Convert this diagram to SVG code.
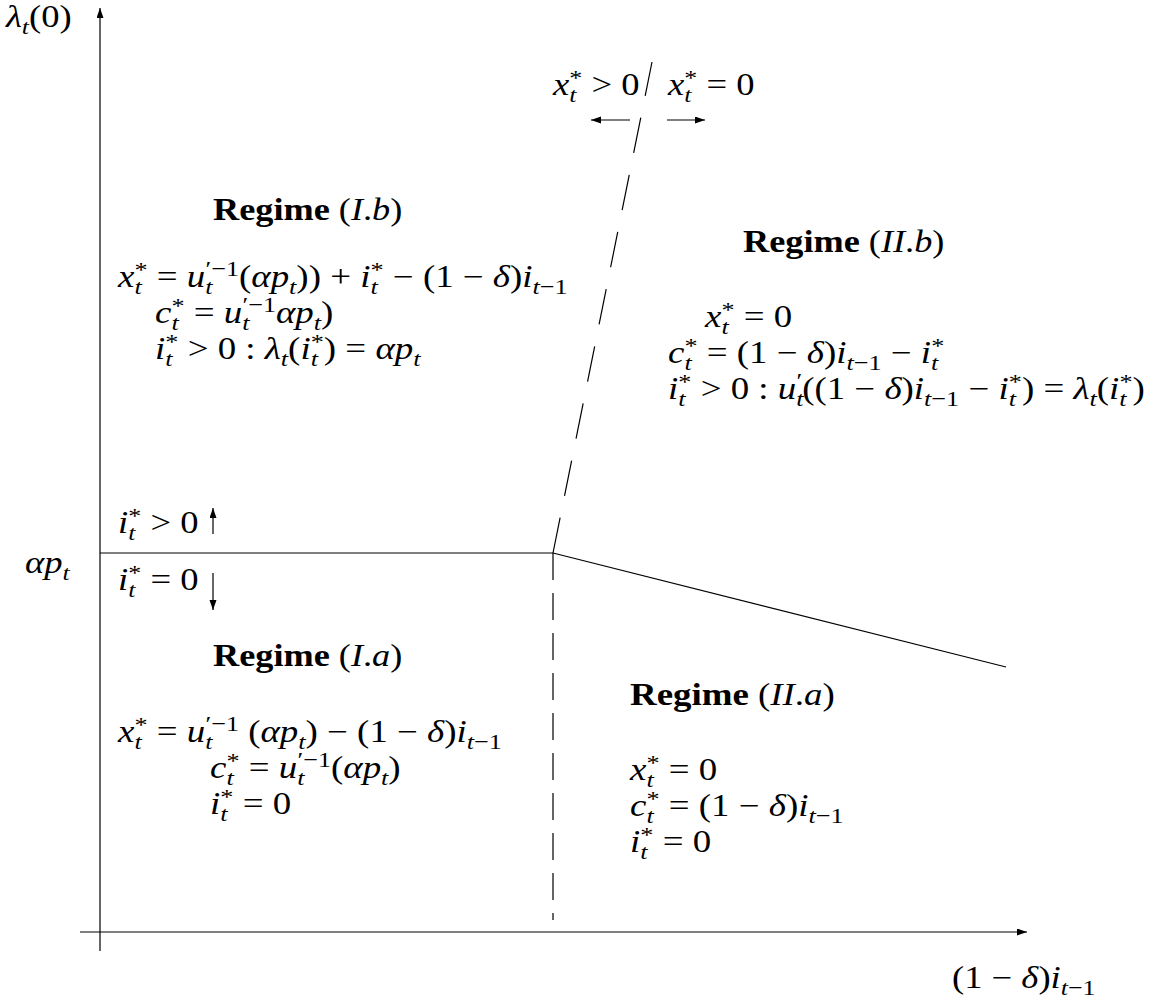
<svg xmlns="http://www.w3.org/2000/svg" width="1167" height="1000" viewBox="0 0 1167 1000">
<style>
.t{font-family:"Liberation Serif","Times New Roman",serif;font-size:31px;fill:#000}
.i{font-style:italic}
.s{font-size:22px}
.b{font-weight:bold}
.ln{stroke:#000;stroke-width:1.2;fill:none}
</style>
<defs>
<marker id="ah" markerUnits="userSpaceOnUse" markerWidth="11" markerHeight="8" refX="10" refY="3.5" orient="auto"><path d="M0,0 L10,3.5 L0,7 z" fill="#000"/></marker>
</defs>
<rect width="1167" height="1000" fill="#fff"/>
<g id="connectors">
<line class="ln" x1="100" y1="951" x2="100" y2="8" marker-end="url(#ah)"/>
<line class="ln" x1="80" y1="932" x2="1027" y2="932" marker-end="url(#ah)"/>
<line class="ln" x1="100" y1="553" x2="553" y2="553"/>
<line class="ln" x1="553" y1="553" x2="553" y2="920" stroke-dasharray="27 13"/>
<line class="ln" x1="553" y1="553" x2="652" y2="62" stroke-dasharray="36 22.3"/>
<line class="ln" x1="553" y1="553" x2="1006" y2="667"/>
<line class="ln" x1="213" y1="534" x2="213" y2="508" marker-end="url(#ah)"/>
<line class="ln" x1="213" y1="573" x2="213" y2="610" marker-end="url(#ah)"/>
<line class="ln" x1="630" y1="120" x2="591" y2="120" marker-end="url(#ah)"/>
<line class="ln" x1="667" y1="120" x2="705" y2="120" marker-end="url(#ah)"/>
</g>
<g id="axis-labels">
<text class="t" transform="translate(6 27) scale(1.18 1)"><tspan class="i">λ</tspan><tspan class="s i" dy="7">t</tspan><tspan dy="-7">(0)</tspan></text>
<text class="t" transform="translate(25 573) scale(1.18 1)"><tspan class="i">αp</tspan><tspan class="s i" dy="7">t</tspan></text>
<text class="t" transform="translate(952 988) scale(1.18 1)">(1 − <tspan class="i">δ</tspan>)<tspan class="i">i</tspan><tspan class="s" dy="7"><tspan class="i">t</tspan>−1</tspan></text>
</g>
<g id="boundary-labels">
<text class="t" transform="translate(553 95) scale(1.18 1)"><tspan class="i">x</tspan><tspan class="s i" dy="7">t</tspan><tspan class="s" dx="-6" dy="-17">*</tspan><tspan dy="10"> &gt; 0</tspan></text>
<text class="t" transform="translate(668 95) scale(1.18 1)"><tspan class="i">x</tspan><tspan class="s i" dy="7">t</tspan><tspan class="s" dx="-6" dy="-17">*</tspan><tspan dy="10"> = 0</tspan></text>
<text class="t" transform="translate(118 533) scale(1.18 1)"><tspan class="i">i</tspan><tspan class="s i" dy="7">t</tspan><tspan class="s" dx="-6" dy="-17">*</tspan><tspan dy="10"> &gt; 0</tspan></text>
<text class="t" transform="translate(118 590) scale(1.18 1)"><tspan class="i">i</tspan><tspan class="s i" dy="7">t</tspan><tspan class="s" dx="-6" dy="-17">*</tspan><tspan dy="10"> = 0</tspan></text>
</g>
<g id="regime-Ib">
<text class="t" transform="translate(213 220) scale(1.17 1)"><tspan class="b">Regime</tspan> (<tspan class="i">I</tspan>.<tspan class="i">b</tspan>)</text>
<text class="t" transform="translate(118 287) scale(1.19 1)"><tspan class="i">x</tspan><tspan class="s i" dy="7">t</tspan><tspan class="s" dx="-6" dy="-17">*</tspan><tspan dy="10"> = </tspan><tspan class="i">u</tspan><tspan class="s i" dy="7">t</tspan><tspan class="s" dx="-6" dy="-18">′−1</tspan><tspan dy="11">(</tspan><tspan class="i">αp</tspan><tspan class="s i" dy="7">t</tspan><tspan dy="-7">)) + </tspan><tspan class="i">i</tspan><tspan class="s i" dy="7">t</tspan><tspan class="s" dx="-6" dy="-17">*</tspan><tspan dy="10"> − (1 − </tspan><tspan class="i">δ</tspan>)<tspan class="i">i</tspan><tspan class="s" dy="7"><tspan class="i">t</tspan>−1</tspan></text>
<text class="t" transform="translate(155 323) scale(1.19 1)"><tspan class="i">c</tspan><tspan class="s i" dy="7">t</tspan><tspan class="s" dx="-6" dy="-17">*</tspan><tspan dy="10"> = </tspan><tspan class="i">u</tspan><tspan class="s i" dy="7">t</tspan><tspan class="s" dx="-6" dy="-18">′−1</tspan><tspan class="i" dy="11">αp</tspan><tspan class="s i" dy="7">t</tspan><tspan dy="-7">)</tspan></text>
<text class="t" transform="translate(155 359) scale(1.19 1)"><tspan class="i">i</tspan><tspan class="s i" dy="7">t</tspan><tspan class="s" dx="-6" dy="-17">*</tspan><tspan dy="10"> &gt; 0 : </tspan><tspan class="i">λ</tspan><tspan class="s i" dy="7">t</tspan><tspan dy="-7">(</tspan><tspan class="i">i</tspan><tspan class="s i" dy="7">t</tspan><tspan class="s" dx="-6" dy="-17">*</tspan><tspan dy="10">) = </tspan><tspan class="i">αp</tspan><tspan class="s i" dy="7">t</tspan></text>
</g>
<g id="regime-IIb">
<text class="t" transform="translate(743 252) scale(1.17 1)"><tspan class="b">Regime</tspan> (<tspan class="i">II</tspan>.<tspan class="i">b</tspan>)</text>
<text class="t" transform="translate(705 327) scale(1.19 1)"><tspan class="i">x</tspan><tspan class="s i" dy="7">t</tspan><tspan class="s" dx="-6" dy="-17">*</tspan><tspan dy="10"> = 0</tspan></text>
<text class="t" transform="translate(668 363) scale(1.19 1)"><tspan class="i">c</tspan><tspan class="s i" dy="7">t</tspan><tspan class="s" dx="-6" dy="-17">*</tspan><tspan dy="10"> = (1 − </tspan><tspan class="i">δ</tspan>)<tspan class="i">i</tspan><tspan class="s" dy="7"><tspan class="i">t</tspan>−1</tspan><tspan dy="-7"> − </tspan><tspan class="i">i</tspan><tspan class="s i" dy="7">t</tspan><tspan class="s" dx="-6" dy="-17">*</tspan></text>
<text class="t" transform="translate(668 399) scale(1.19 1)"><tspan class="i">i</tspan><tspan class="s i" dy="7">t</tspan><tspan class="s" dx="-6" dy="-17">*</tspan><tspan dy="10"> &gt; 0 : </tspan><tspan class="i">u</tspan><tspan class="s i" dy="7">t</tspan><tspan class="s" dx="-6" dy="-18">′</tspan><tspan dy="11">((1 − </tspan><tspan class="i">δ</tspan>)<tspan class="i">i</tspan><tspan class="s" dy="7"><tspan class="i">t</tspan>−1</tspan><tspan dy="-7"> − </tspan><tspan class="i">i</tspan><tspan class="s i" dy="7">t</tspan><tspan class="s" dx="-6" dy="-17">*</tspan><tspan dy="10">) = </tspan><tspan class="i">λ</tspan><tspan class="s i" dy="7">t</tspan><tspan dy="-7">(</tspan><tspan class="i">i</tspan><tspan class="s i" dy="7">t</tspan><tspan class="s" dx="-6" dy="-17">*</tspan><tspan dy="10">)</tspan></text>
</g>
<g id="regime-Ia">
<text class="t" transform="translate(213 666) scale(1.17 1)"><tspan class="b">Regime</tspan> (<tspan class="i">I</tspan>.<tspan class="i">a</tspan>)</text>
<text class="t" transform="translate(118 742) scale(1.19 1)"><tspan class="i">x</tspan><tspan class="s i" dy="7">t</tspan><tspan class="s" dx="-6" dy="-17">*</tspan><tspan dy="10"> = </tspan><tspan class="i">u</tspan><tspan class="s i" dy="7">t</tspan><tspan class="s" dx="-6" dy="-18">′−1</tspan><tspan dy="11"> (</tspan><tspan class="i">αp</tspan><tspan class="s i" dy="7">t</tspan><tspan dy="-7">) − (1 − </tspan><tspan class="i">δ</tspan>)<tspan class="i">i</tspan><tspan class="s" dy="7"><tspan class="i">t</tspan>−1</tspan></text>
<text class="t" transform="translate(210 778) scale(1.19 1)"><tspan class="i">c</tspan><tspan class="s i" dy="7">t</tspan><tspan class="s" dx="-6" dy="-17">*</tspan><tspan dy="10"> = </tspan><tspan class="i">u</tspan><tspan class="s i" dy="7">t</tspan><tspan class="s" dx="-6" dy="-18">′−1</tspan><tspan dy="11">(</tspan><tspan class="i">αp</tspan><tspan class="s i" dy="7">t</tspan><tspan dy="-7">)</tspan></text>
<text class="t" transform="translate(210 814) scale(1.19 1)"><tspan class="i">i</tspan><tspan class="s i" dy="7">t</tspan><tspan class="s" dx="-6" dy="-17">*</tspan><tspan dy="10"> = 0</tspan></text>
</g>
<g id="regime-IIa">
<text class="t" transform="translate(630 705) scale(1.19 1)"><tspan class="b">Regime</tspan> (<tspan class="i">II</tspan>.<tspan class="i">a</tspan>)</text>
<text class="t" transform="translate(630 780) scale(1.19 1)"><tspan class="i">x</tspan><tspan class="s i" dy="7">t</tspan><tspan class="s" dx="-6" dy="-17">*</tspan><tspan dy="10"> = 0</tspan></text>
<text class="t" transform="translate(630 816) scale(1.19 1)"><tspan class="i">c</tspan><tspan class="s i" dy="7">t</tspan><tspan class="s" dx="-6" dy="-17">*</tspan><tspan dy="10"> = (1 − </tspan><tspan class="i">δ</tspan>)<tspan class="i">i</tspan><tspan class="s" dy="7"><tspan class="i">t</tspan>−1</tspan></text>
<text class="t" transform="translate(630 852) scale(1.19 1)"><tspan class="i">i</tspan><tspan class="s i" dy="7">t</tspan><tspan class="s" dx="-6" dy="-17">*</tspan><tspan dy="10"> = 0</tspan></text>
</g>
</svg>
